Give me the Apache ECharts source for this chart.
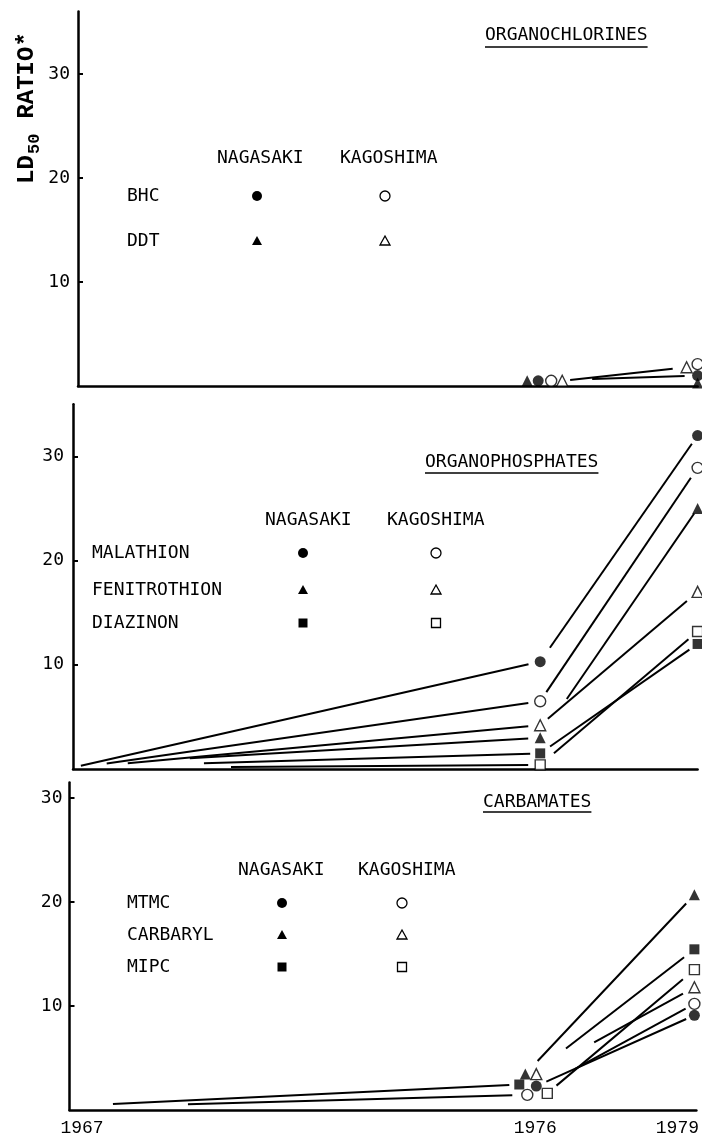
<!DOCTYPE html>
<html>
<head>
<meta charset="utf-8">
<script src="https://cdn.jsdelivr.net/npm/echarts@6/dist/echarts.min.js"></script>
<style>html,body{margin:0;padding:0;background:#fff}#c{width:702px;height:1144px}</style>
</head>
<body>
<div id="c"></div>
<script>
// ---------------- DATA ----------------
const years = [1967, 1976, 1979];          // x positions / tick labels
const yTicks = [10, 20, 30];               // y tick labels
const sites = ['NAGASAKI', 'KAGOSHIMA'];
const panelTitles = ['ORGANOCHLORINES', 'ORGANOPHOSPHATES', 'CARBAMATES'];
const organochlorines = ['BHC', 'DDT'];
const organophosphates = ['MALATHION', 'FENITROTHION', 'DIAZINON'];
const carbamates = ['MTMC', 'CARBARYL', 'MIPC'];
const yAxisTitle = ['LD', '50', ' RATIO*'];

// LD50 ratio at [1967, 1976, 1979] (null = not plotted)
const bhcNagasaki  = [null, 0.5, 1.0];
const bhcKagoshima = [null, 0.5, 2.1];
const ddtNagasaki  = [null, 0.5, 0.3];
const ddtKagoshima = [null, 0.5, 1.8];

const malathionNagasaki     = [0.2, 10.3, 32.0];
const malathionKagoshima    = [0.1, 6.5, 28.9];
const fenitrothionNagasaki  = [0.4, 3.0, 25.0];
const fenitrothionKagoshima = [0.1, 4.2, 17.0];
const diazinonNagasaki      = [0.2, 1.5, 12.0];
const diazinonKagoshima     = [0.1, 0.4, 13.2];

const mtmcNagasaki      = [null, 2.3, 9.1];
const mtmcKagoshima     = [0.25, 1.45, 10.2];
const carbarylNagasaki  = [null, 3.45, 20.7];
const carbarylKagoshima = [null, 3.45, 11.8];
const mipcNagasaki      = [0.4, 2.45, 15.45];
const mipcKagoshima     = [null, 1.6, 13.5];

// ---------------- STYLE / LAYOUT ----------------
const W = 702, H = 1144;
const FONT = "'DejaVu Sans Mono', 'Liberation Mono', monospace";
const PX_PER_YEAR = 51.8, X1967 = 76;
const X1979 = X1967 + 12 * PX_PER_YEAR;

const LAYOUT = [
  { axisX: 78,   zeroY: 386,  ppu: 10.4,  yMax: 36,   margin: 8,
    title: { x: 485, y: 35, ul: 47 }, headY: 158, headX: [217, 340], labelX: 127,
    rowY: [196, 241], markX: [257, 385] },
  { axisX: 73,   zeroY: 769,  ppu: 10.42, yMax: 35,   margin: 9,
    title: { x: 425, y: 462, ul: 473 }, headY: 520, headX: [265, 387], labelX: 92,
    rowY: [553, 590, 623], markX: [303, 436] },
  { axisX: 69.5, zeroY: 1110, ppu: 10.4,  yMax: 31.5, margin: 7,
    title: { x: 483, y: 802, ul: 812 }, headY: 870, headX: [238, 358], labelX: 127,
    rowY: [903, 935, 967], markX: [282, 402] }
];

// horizontal pixel shift of markers (draftsman's offsets where symbols crowd)
const markerShift = {
  'BHC|NAGASAKI': [0, -4, 0], 'BHC|KAGOSHIMA': [0, 9, 0],
  'DDT|NAGASAKI': [0, -15, 0], 'DDT|KAGOSHIMA': [0, 20, -11],
  'MALATHION|NAGASAKI': [0, -2, 0], 'MALATHION|KAGOSHIMA': [0, -2, 0],
  'FENITROTHION|NAGASAKI': [0, -2, 0], 'FENITROTHION|KAGOSHIMA': [0, -2, 0],
  'DIAZINON|NAGASAKI': [0, -2, 0], 'DIAZINON|KAGOSHIMA': [0, -2, 0],
  'MTMC|NAGASAKI': [0, -5, -2], 'MTMC|KAGOSHIMA': [0, -14, -2],
  'CARBARYL|NAGASAKI': [0, -16, -2], 'CARBARYL|KAGOSHIMA': [0, -5, -2],
  'MIPC|NAGASAKI': [0, -22, -2], 'MIPC|KAGOSHIMA': [0, 6, -2]
};
// gaps (px) left at the start / end of each drawn segment; null = segment not drawn
const lineGaps = {
  'BHC|NAGASAKI': [null, [54, 13]], 'DDT|KAGOSHIMA': [null, [8, 14]],
  'MALATHION|NAGASAKI': [[5, 12], [17, 10]], 'MALATHION|KAGOSHIMA': [[31, 12], [11, 12]],
  'FENITROTHION|NAGASAKI': [[114, 12], [47, 6]], 'FENITROTHION|KAGOSHIMA': [[52, 12], [10, 14]],
  'DIAZINON|NAGASAKI': [[128, 10], [12, 10]], 'DIAZINON|KAGOSHIMA': [[155, 12], [18, 12]],
  'CARBARYL|NAGASAKI': [null, [18, 12]], 'CARBARYL|KAGOSHIMA': [null, [66, 13]],
  'MIPC|NAGASAKI': [[37, 10], [59, 13]], 'MIPC|KAGOSHIMA': [null, [12, 15]],
  'MTMC|NAGASAKI': [null, [11, 9]], 'MTMC|KAGOSHIMA': [[112, 15], [55, 10]]
};
const SYMBOLS = ['circle', 'triangle', 'rect'];
const SIZES = { circle: 11, triangle: 11, rect: 10 };

const PANELS = [
  { title: panelTitles[0], chems: organochlorines,
    values: [[bhcNagasaki, bhcKagoshima], [ddtNagasaki, ddtKagoshima]] },
  { title: panelTitles[1], chems: organophosphates,
    values: [[malathionNagasaki, malathionKagoshima], [fenitrothionNagasaki, fenitrothionKagoshima],
             [diazinonNagasaki, diazinonKagoshima]] },
  { title: panelTitles[2], chems: carbamates,
    values: [[mtmcNagasaki, mtmcKagoshima], [carbarylNagasaki, carbarylKagoshima],
             [mipcNagasaki, mipcKagoshima]] }
];

// ---------------- BUILD ----------------
const grids = [], xAxes = [], yAxes = [], series = [], graphics = [];
const black = '#000';

function txt(text, x, y, font, extra) {
  return Object.assign({
    type: 'text', x: x, y: y, silent: true, z: 10,
    style: { text: text, font: font || ('18px ' + FONT), fill: black,
             textAlign: 'left', textVerticalAlign: 'middle', align: 'left', verticalAlign: 'middle' }
  }, extra || {});
}
function legendSymbol(kind, filled, x, y) {
  const style = filled ? { fill: black } : { fill: '#fff', stroke: black, lineWidth: 1.3 };
  if (kind === 'circle') return { type: 'circle', silent: true, z: 10, shape: { cx: x, cy: y, r: 5 }, style };
  if (kind === 'triangle') return { type: 'polygon', silent: true, z: 10,
    shape: { points: [[x, y - 5], [x + 5, y + 4], [x - 5, y + 4]] }, style };
  return { type: 'rect', silent: true, z: 10, shape: { x: x - 4.5, y: y - 4.5, width: 9, height: 9 }, style };
}
function makeRender(segs) {
  return function (params, api) {
    const s = segs[params.dataIndex];
    const a = api.coord([api.value(0), api.value(1)]);
    const b = api.coord([api.value(2), api.value(3)]);
    a[0] += s.dx1; b[0] += s.dx2;
    const dx = b[0] - a[0], dy = b[1] - a[1];
    const len = Math.sqrt(dx * dx + dy * dy) || 1;
    const ux = dx / len, uy = dy / len;
    return {
      type: 'line',
      shape: { x1: a[0] + ux * s.g1, y1: a[1] + uy * s.g1, x2: b[0] - ux * s.g2, y2: b[1] - uy * s.g2 },
      style: { stroke: black, lineWidth: 2 }
    };
  };
}

PANELS.forEach(function (p, pi) {
  const L = LAYOUT[pi];
  const top = L.zeroY - L.yMax * L.ppu;
  grids.push({ left: L.axisX, right: W - X1979, top: top, bottom: H - L.zeroY });
  const xAxis = {
    gridIndex: pi, type: 'value',
    min: 1967 + (L.axisX - X1967) / PX_PER_YEAR, max: 1979,
    axisLine: { show: true, onZero: false, lineStyle: { color: black, width: 2.5 } },
    axisTick: { show: false }, splitLine: { show: false },
    axisLabel: { show: false }
  };
  if (pi === 2) {
    xAxis.axisLabel = {
      show: true, customValues: years, margin: 9, color: black,
      fontFamily: "'Liberation Mono', 'DejaVu Sans Mono', monospace", fontSize: 18,
      formatter: function (v) {
        if (v === 1967) return '{l|1967}';
        if (v === 1976) return '{m|1976}';
        return '{r|' + v + '}';
      },
      rich: {
        l: { padding: [0, 0, 0, 12], fontFamily: "'Liberation Mono', monospace", fontSize: 18, color: black },
        m: { padding: [0, 12, 0, 0], fontFamily: "'Liberation Mono', monospace", fontSize: 18, color: black },
        r: { padding: [0, 38, 0, 0], fontFamily: "'Liberation Mono', monospace", fontSize: 18, color: black }
      }
    };
  }
  xAxes.push(xAxis);
  yAxes.push({
    gridIndex: pi, type: 'value', min: 0, max: L.yMax,
    axisLine: { show: true, onZero: false, lineStyle: { color: black, width: 2.5 } },
    axisTick: { show: true, inside: true, length: 5, customValues: yTicks, lineStyle: { color: black, width: 2 } },
    axisLabel: { show: true, customValues: yTicks, margin: L.margin, color: black, fontFamily: FONT, fontSize: 18 },
    splitLine: { show: false }
  });

  const segs = [];
  p.values.forEach(function (pair, ci) {
    pair.forEach(function (vals, si) {
      const key = p.chems[ci] + '|' + sites[si];
      const gaps = lineGaps[key] || [];
      const shift = markerShift[key] || [0, 0, 0];
      for (let k = 0; k < years.length - 1; k++) {
        if (vals[k] == null || vals[k + 1] == null || !gaps[k]) continue;
        segs.push({ x1: years[k], y1: vals[k], x2: years[k + 1], y2: vals[k + 1],
                    dx1: shift[k], dx2: shift[k + 1], g1: gaps[k][0], g2: gaps[k][1] });
      }
      const sym = SYMBOLS[ci];
      series.push({
        type: 'scatter', name: key, xAxisIndex: pi, yAxisIndex: pi, silent: true, z: 3, clip: false,
        symbol: sym, symbolSize: SIZES[sym],
        itemStyle: si === 0 ? { color: black } : { color: '#fff', borderColor: black, borderWidth: 1.4 },
        data: vals.map(function (v, k) {
          return (k > 0 && v != null) ? { value: [years[k], v], symbolOffset: [shift[k], 0] } : null;
        }).filter(Boolean)
      });
    });
  });
  series.push({
    type: 'custom', xAxisIndex: pi, yAxisIndex: pi, silent: true, z: 2, clip: false,
    encode: { x: [0, 2], y: [1, 3] },
    data: segs.map(function (s) { return [s.x1, s.y1, s.x2, s.y2]; }),
    renderItem: makeRender(segs)
  });

  // panel title (underlined)
  graphics.push(txt(p.title, L.title.x, L.title.y));
  graphics.push({ type: 'line', silent: true, z: 10,
    shape: { x1: L.title.x, y1: L.title.ul, x2: L.title.x + p.title.length * 10.84, y2: L.title.ul },
    style: { stroke: black, lineWidth: 1.5 } });
  // legend table
  sites.forEach(function (s, si) { graphics.push(txt(s, L.headX[si], L.headY)); });
  p.chems.forEach(function (c, ci) {
    graphics.push(txt(c, L.labelX, L.rowY[ci]));
    sites.forEach(function (s, si) {
      graphics.push(legendSymbol(SYMBOLS[ci], si === 0, L.markX[si], L.rowY[ci]));
    });
  });
});

// y-axis title, rotated
const TFONT = "'Liberation Mono', 'DejaVu Sans Mono', monospace";
graphics.push(txt(yAxisTitle[0], 27, 184, 'bold 24px ' + TFONT, { rotation: Math.PI / 2 }));
graphics.push(txt(yAxisTitle[1], 35, 154, 'bold 17px ' + TFONT, { rotation: Math.PI / 2 }));
graphics.push(txt(yAxisTitle[2], 27, 133, 'bold 24px ' + TFONT, { rotation: Math.PI / 2 }));

const chart = echarts.init(document.getElementById('c'));
chart.setOption({
  animation: false,
  backgroundColor: '#fff',
  grid: grids, xAxis: xAxes, yAxis: yAxes,
  series: series,
  graphic: { elements: graphics }
});
</script>
</body>
</html>
